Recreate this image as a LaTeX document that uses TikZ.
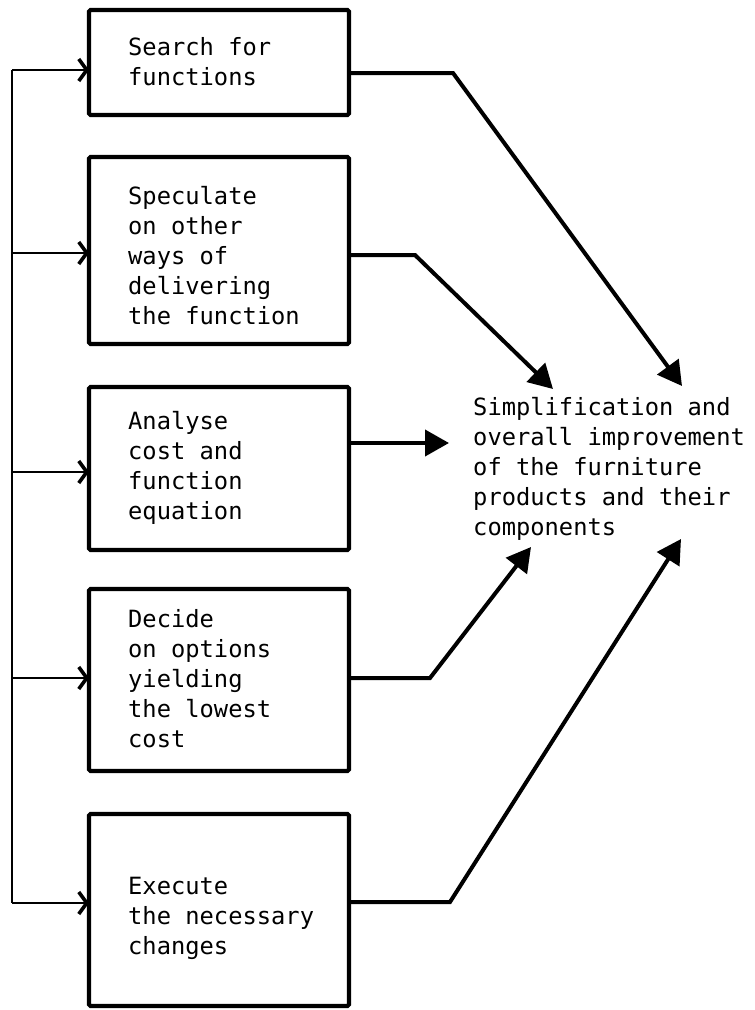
\documentclass[tikz,border=0pt]{standalone}
\usepackage{fontspec}
\newfontfamily\typefont{DejaVu Sans Mono}
\usetikzlibrary{arrows.meta}
\begin{document}
\begin{tikzpicture}[x=1pt,y=-1pt,
  stepbox/.style={draw, line width=4.2pt, rounded corners=1.5pt, minimum width=260pt,
    inner sep=0pt, outer sep=0pt},
  caption/.style={anchor=west, align=left, inner sep=0pt,
    font=\typefont\fontsize{23.75}{30}\selectfont},
  bus/.style={line width=2pt},
  feed/.style={line width=2.2pt, -{Straight Barb[length=8pt,width=22pt,line width=3.6pt]}},
  outlink/.style={line width=4pt, line join=miter, -{Triangle[length=24pt,width=26pt]}}
]
\useasboundingbox (0,0) rectangle (755,1010);

% the five steps
\node[stepbox, minimum height=105pt] (b1) at (219,62.5) {};
\node[stepbox, minimum height=187pt] (b2) at (219,250.5) {};
\node[stepbox, minimum height=163pt] (b3) at (219,468.5) {};
\node[stepbox, minimum height=182pt] (b4) at (219,680) {};
\node[stepbox, minimum height=192pt] (b5) at (219,910) {};

\node[caption] (t1) at (128,62) {Search for\\functions};
\node[caption] (t2) at (128,256) {Speculate\\on other\\ways of\\delivering\\the function};
\node[caption] (t3) at (128,468) {Analyse\\cost and\\function\\equation};
\node[caption] (t4) at (128,679) {Decide\\on options\\yielding\\the lowest\\cost};
\node[caption] (t5) at (128,918) {Execute\\the necessary\\changes};

% outcome
\node[caption] (goal) at (473,469) {Simplification and\\overall improvement\\of the furniture\\products and their\\components};

% feed bus on the left
\coordinate (f1) at (12,70);
\coordinate (f2) at (12,253);
\coordinate (f3) at (12,472);
\coordinate (f4) at (12,678);
\coordinate (f5) at (12,903);
\draw[bus] (f1) -- (f5);
\foreach \i in {1,...,5} {
  \draw[feed] (f\i) -- (f\i -| b\i.west);
}

% links to the outcome
\coordinate (o1) at (453,73);
\coordinate (o2) at (415,255);
\coordinate (o4) at (430,678);
\coordinate (o5) at (450,902);
\coordinate (p1) at (682,386);
\coordinate (p2) at (553,389);
\coordinate (p3) at (449,443);
\coordinate (p4) at (531,547);
\coordinate (p5) at (681,539);

\draw[outlink] (o1 -| b1.east) -- (o1) -- (p1);
\draw[outlink] (o2 -| b2.east) -- (o2) -- (p2);
\draw[outlink] (p3 -| b3.east) -- (p3);
\draw[outlink] (o4 -| b4.east) -- (o4) -- (p4);
\draw[outlink] (o5 -| b5.east) -- (o5) -- (p5);
\end{tikzpicture}
\end{document}
